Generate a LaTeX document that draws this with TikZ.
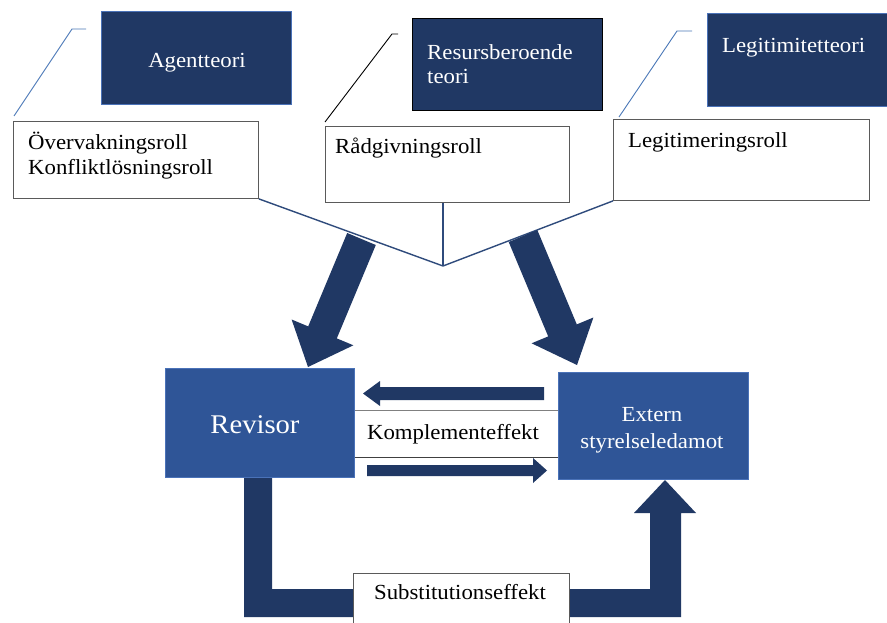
\documentclass[tikz,border=0pt]{standalone}
\usepackage{fontspec}
\setmainfont{Liberation Serif}[FakeStretch=1.06]
\usetikzlibrary{calc}
\definecolor{navy}{HTML}{203864}
\definecolor{midblue}{HTML}{2F5597}
\definecolor{edgeblue}{HTML}{4A72B8}
\definecolor{vline}{HTML}{2F4B7C}
\definecolor{leadblue}{HTML}{4A78B8}
\definecolor{boxgray}{HTML}{5A5A5A}
\begin{document}
\begin{tikzpicture}[x=1pt,y=-1pt,
  darkbox/.style={fill=navy, draw=edgeblue, line width=0.8pt, inner sep=0pt, anchor=north west},
  midbox/.style={fill=midblue, draw=edgeblue, line width=0.8pt, inner sep=0pt, anchor=north west},
  whitebox/.style={fill=white, draw=boxgray, line width=0.9pt, inner sep=0pt, anchor=north west},
  txt/.style={font=\fontsize{21.5}{25}\selectfont, inner sep=0pt, text=black},
  wtxt/.style={txt, text=white},
  bigtxt/.style={font=\fontsize{27}{31}\selectfont, inner sep=0pt, text=white},
  leader/.style={line width=0.9pt},
  blockarrow/.style={fill=navy, draw=none}
]
\path[use as bounding box] (0,0) rectangle (887,623);
\clip (0,0) rectangle (887,623);
\fill[white] (0,0) rectangle (887,623);

% theory boxes
\node[darkbox, minimum width=190pt, minimum height=93pt] (agent) at (101,11) {};
\node[wtxt, anchor=base] (agentt) at (197,68) {Agentteori};
\node[darkbox, draw=black, line width=1.4pt, minimum width=190pt, minimum height=92pt] (resurs) at (412,18) {};
\node[wtxt, anchor=base west] (resurst1) at (427,60) {Resursberoende};
\node[wtxt, anchor=base west] (resurst2) at (427,84) {teori};
\node[darkbox, minimum width=190pt, minimum height=93pt] (legit) at (707,13) {};
\node[wtxt, anchor=base west] (legitt) at (722,53) {Legitimitetteori};

% role boxes
\node[whitebox, minimum width=245pt, minimum height=77pt] (roll1) at (13,121) {};
\node[txt, anchor=base west] (roll1a) at (28,150) {Övervakningsroll};
\node[txt, anchor=base west] (roll1b) at (28,175) {Konfliktlösningsroll};
\node[whitebox, minimum width=244pt, minimum height=76pt] (roll2) at (325,126) {};
\node[txt, anchor=base west] (roll2a) at (335,154) {Rådgivningsroll};
\node[whitebox, minimum width=256pt, minimum height=81pt] (roll3) at (613,119) {};
\node[txt, anchor=base west] (roll3a) at (628,148) {Legitimeringsroll};

% leader lines
\coordinate (la0) at (14,116); \coordinate (la1) at (72,29); \coordinate (la2) at (86,29);
\draw[leader, leadblue] (la0) -- (la1) -- (la2);
\coordinate (lb0) at (325,122); \coordinate (lb1) at (392,34); \coordinate (lb2) at (398,34);
\draw[leader, black] (lb0) -- (lb1) -- (lb2);
\coordinate (lc0) at (619,117); \coordinate (lc1) at (677,31); \coordinate (lc2) at (692,31);
\draw[leader, leadblue] (lc0) -- (lc1) -- (lc2);

% V connector
\coordinate (v) at (443,266);
\draw[vline, line width=1.4pt, line join=miter] (roll1.south east) -- (v) -- (roll3.south west);
\draw[vline, line width=1.4pt] (v |- roll2.south) -- (v);

% big diagonal arrows
\fill[blockarrow] (347.2,233.0) -- (375.8,245.0) -- (336.8,338.4) -- (353.4,345.3) -- (308,367)
  -- (291.6,319.5) -- (308.2,326.4) -- cycle;
\fill[blockarrow] (508.7,242.0) -- (537.3,230.0) -- (576.8,324.4) -- (593.4,317.5) -- (577,365)
  -- (531.6,343.3) -- (548.2,336.4) -- cycle;

% bottom U arrow
\fill[blockarrow] (244,477) -- (244,617) -- (681,617) -- (681,513) -- (696,513) -- (665,480)
  -- (634,513) -- (650,513) -- (650,589) -- (272,589) -- (272,477) -- cycle;

% main boxes
\node[midbox, minimum width=189pt, minimum height=109pt] (rev) at (165,368) {};
\node[bigtxt, anchor=base] (revt) at (255,433) {Revisor};
\node[midbox, minimum width=190pt, minimum height=107pt] (ext) at (558,372) {};
\node[wtxt, anchor=base] (extt1) at (652,421) {Extern};
\node[wtxt, anchor=base] (extt2) at (652,448) {styrelseledamot};

% complement
\coordinate (k1) at (0,410); \coordinate (k2) at (0,457);
\draw[gray, line width=0.9pt] (rev.east |- k1) -- (ext.west |- k1);
\draw[black!75, line width=0.9pt] (rev.east |- k2) -- (ext.west |- k2);
\node[txt, anchor=base] (komp) at (453,439) {Komplementeffekt};
\fill[blockarrow] (544,387) -- (380,387) -- (380,381) -- (363,393.5) -- (380,406) -- (380,400) -- (544,400) -- cycle;
\fill[blockarrow] (367,465) -- (533,465) -- (533,458) -- (547,470.5) -- (533,483) -- (533,476) -- (367,476) -- cycle;

% substitution
\node[whitebox, minimum width=216pt, minimum height=60pt] (subst) at (353,573) {};
\node[txt, anchor=base] (substt) at (460,599) {Substitutionseffekt};
\end{tikzpicture}
\end{document}
